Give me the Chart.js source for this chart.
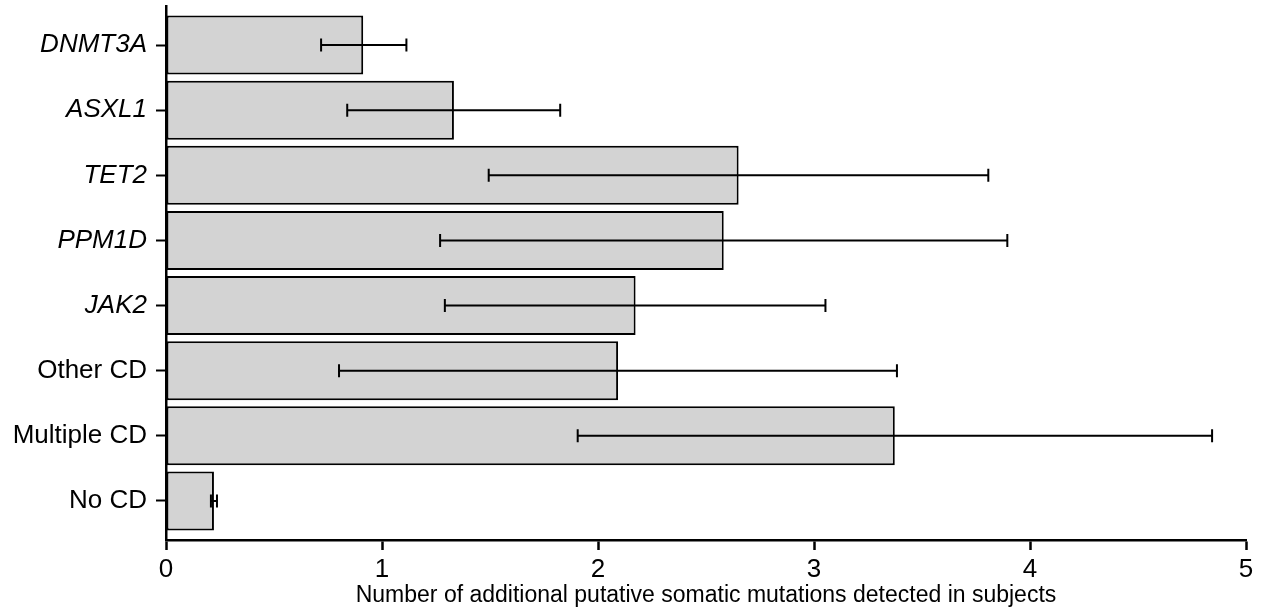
<!DOCTYPE html>
<html>
<head>
<meta charset="utf-8">
<script src="https://cdn.jsdelivr.net/npm/chart.js@4/dist/chart.umd.min.js"></script>
<style>
  body { margin: 0; background: #fff; }
  .base-graf { width: 1263px; height: 611px; position: relative; }
</style>
</head>
<body>
<div class="base-graf"><canvas id="graficaMutaciones"></canvas></div>
<script>
// categorias y valores
const categorias = ["DNMT3A", "ASXL1", "TET2", "PPM1D", "JAK2", "Other CD", "Multiple CD", "No CD"];
const cursiva = [true, true, true, true, true, false, false, false];
const medias = [0.913, 1.333, 2.651, 2.582, 2.174, 2.093, 3.374, 0.222];
const limInf = [0.718, 0.839, 1.494, 1.269, 1.291, 0.801, 1.906, 0.208];
const limSup = [1.113, 1.825, 3.807, 3.895, 3.053, 3.384, 4.843, 0.236];
const ticksX = [0, 1, 2, 3, 4, 5];

const fuente = "'Liberation Sans', Arial, Helvetica, sans-serif";
Chart.defaults.color = '#000';
Chart.defaults.font.family = fuente;

// barras de error dibujadas con las escalas del grafico
const barrasError = {
  id: 'barrasError',
  afterDatasetsDraw(chart) {
    const ctx = chart.ctx;
    const xs = chart.scales.x;
    const ys = chart.scales.y;
    ctx.save();
    ctx.strokeStyle = '#000';
    ctx.lineWidth = 2;
    for (let i = 0; i < medias.length; i++) {
      const y = ys.getPixelForValue(i);
      const x1 = xs.getPixelForValue(limInf[i]);
      const x2 = xs.getPixelForValue(limSup[i]);
      ctx.beginPath();
      ctx.moveTo(x1, y); ctx.lineTo(x2, y);
      ctx.moveTo(x1, y - 6.5); ctx.lineTo(x1, y + 6.5);
      ctx.moveTo(x2, y - 6.5); ctx.lineTo(x2, y + 6.5);
      ctx.stroke();
    }
    ctx.restore();
  }
};

const grafica = document.getElementById('graficaMutaciones').getContext('2d');

new Chart(grafica, {
  type: 'bar',
  data: {
    datasets: [{
      data: medias.map((v, i) => ({ x: v, y: i })),
      backgroundColor: '#d3d3d3',
      borderColor: '#000',
      borderWidth: 2,
      borderSkipped: false,
      categoryPercentage: 1,
      barPercentage: 0.907
    }]
  },
  options: {
    indexAxis: 'y',
    responsive: true,
    maintainAspectRatio: false,
    animation: false,
    layout: { padding: { top: 6, right: 17, bottom: 0, left: 0 } },
    plugins: {
      legend: { display: false },
      tooltip: { enabled: false }
    },
    scales: {
      y: {
        type: 'linear',
        reverse: true,
        offset: false,
        min: -0.6,
        max: 7.6,
        afterFit: (scale) => {
          scale.width = 166;
          scale.paddingTop = 0;
          scale.paddingBottom = 0;
        },
        afterBuildTicks: (scale) => {
          scale.ticks = categorias.map((c, i) => ({ value: i }));
        },
        ticks: {
          padding: 9,
          callback: (v) => categorias[v],
          font: (c) => ({
            family: fuente,
            size: 26,
            style: cursiva[c.tick ? c.tick.value : c.index] ? 'italic' : 'normal'
          })
        },
        grid: {
          offset: false,
          drawOnChartArea: false,
          drawTicks: true,
          tickLength: 10,
          tickWidth: 2,
          tickColor: '#000'
        },
        border: { display: true, color: '#000', width: 2.5 }
      },
      x: {
        type: 'linear',
        min: 0,
        max: 5,
        afterFit: (scale) => { scale.height = 71; },
        afterBuildTicks: (scale) => {
          scale.ticks = ticksX.map(v => ({ value: v }));
        },
        ticks: {
          padding: 4,
          font: { family: fuente, size: 26 }
        },
        grid: {
          drawOnChartArea: false,
          drawTicks: true,
          tickLength: 10,
          tickWidth: 2.5,
          tickColor: '#000'
        },
        border: { display: true, color: '#000', width: 2.5 },
        title: {
          display: true,
          text: 'Number of additional putative somatic mutations detected in subjects',
          font: { family: fuente, size: 23 },
          padding: { top: 0, bottom: 2 }
        }
      }
    }
  },
  plugins: [barrasError]
});
</script>
</body>
</html>
